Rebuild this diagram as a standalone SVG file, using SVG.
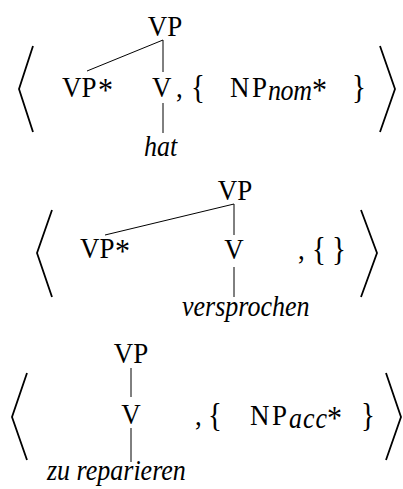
<svg xmlns="http://www.w3.org/2000/svg" width="403" height="489" viewBox="0 0 403 489">
<style>
text{font-family:"Liberation Serif","Times New Roman",serif;font-size:27px;fill:#000}
.it{font-style:italic;font-size:26px}
.sub{font-style:italic;font-size:26px}
.br{font-size:29px}
.st{font-size:30px}
.ang{fill:none;stroke:#000;stroke-width:1.8}
.edge{stroke:#000;stroke-width:1;fill:none}
</style>
<rect width="403" height="489" fill="#fff"/>
<g id="connectors">
<line class="edge" x1="163" y1="40" x2="87" y2="71"/>
<line class="edge" x1="163" y1="40" x2="163" y2="72"/>
<line class="edge" x1="163" y1="103" x2="163" y2="133"/>
<line class="edge" x1="234" y1="204" x2="105" y2="235"/>
<line class="edge" x1="234" y1="204" x2="234" y2="235"/>
<line class="edge" x1="234" y1="267" x2="234" y2="297"/>
<line class="edge" x1="131" y1="368" x2="131" y2="397"/>
<line class="edge" x1="131" y1="428" x2="131" y2="462"/>
</g>
<g id="tuple1">
<polyline class="ang" points="33,46 19,89 33,132"/>
<polyline class="ang" points="380,46 395,89 380,132"/>
<g id="n1-vp"><text transform="translate(165 36) scale(1 1.12)" text-anchor="middle">VP</text></g>
<g id="n1-vpstar"><text transform="translate(62 97) scale(1 1.12)">VP</text><text class="st" transform="translate(98 101) scale(1 1.1)">*</text></g>
<g id="n1-v"><text transform="translate(152 97) scale(1 1.12)">V</text><text transform="translate(176 97) scale(1 1.12)">,</text></g>
<g id="n1-set"><text class="br" transform="translate(191 98) scale(1 1.15)">{</text><text transform="translate(230 97) scale(1 1.12)" textLength="37">NP</text><text class="sub" transform="translate(268 100) scale(1 1.12)" textLength="44">nom</text><text class="st" transform="translate(312 101) scale(1 1.1)">*</text><text class="br" transform="translate(352 98) scale(1 1.15)">}</text></g>
<g id="n1-hat"><text class="it" transform="translate(144 156) scale(1 1.12)">hat</text></g>
</g>
<g id="tuple2">
<polyline class="ang" points="52,210 37,253 52,297"/>
<polyline class="ang" points="361,210 377,253 361,297"/>
<g id="n2-vp"><text transform="translate(235 200) scale(1 1.12)" text-anchor="middle">VP</text></g>
<g id="n2-vpstar"><text transform="translate(80 258) scale(1 1.12)">VP</text><text class="st" transform="translate(115 262) scale(1 1.1)">*</text></g>
<g id="n2-v"><text transform="translate(234 259) scale(1 1.12)" text-anchor="middle">V</text></g>
<g id="n2-set"><text transform="translate(298 259) scale(1 1.12)">,</text><text class="br" transform="translate(312 260) scale(1 1.15)">{</text><text class="br" transform="translate(332 260) scale(1 1.15)">}</text></g>
<g id="n2-versprochen"><text class="it" transform="translate(182 316) scale(1 1.12)">versprochen</text></g>
</g>
<g id="tuple3">
<polyline class="ang" points="27,373 12,417 27,460"/>
<polyline class="ang" points="386,373 401,417 386,460"/>
<g id="n3-vp"><text transform="translate(131 363) scale(1 1.12)" text-anchor="middle">VP</text></g>
<g id="n3-v"><text transform="translate(131 424) scale(1 1.12)" text-anchor="middle">V</text></g>
<g id="n3-set"><text transform="translate(195 425) scale(1 1.12)">,</text><text class="br" transform="translate(208 426) scale(1 1.15)">{</text><text transform="translate(250 425) scale(1 1.12)" textLength="37">NP</text><text class="sub" transform="translate(289 428) scale(1 1.12)" textLength="38">acc</text><text class="st" transform="translate(327 429) scale(1 1.1)">*</text><text class="br" transform="translate(361 426) scale(1 1.15)">}</text></g>
<g id="n3-zu"><text class="it" transform="translate(47 480) scale(1 1.12)">zu reparieren</text></g>
</g>
</svg>
